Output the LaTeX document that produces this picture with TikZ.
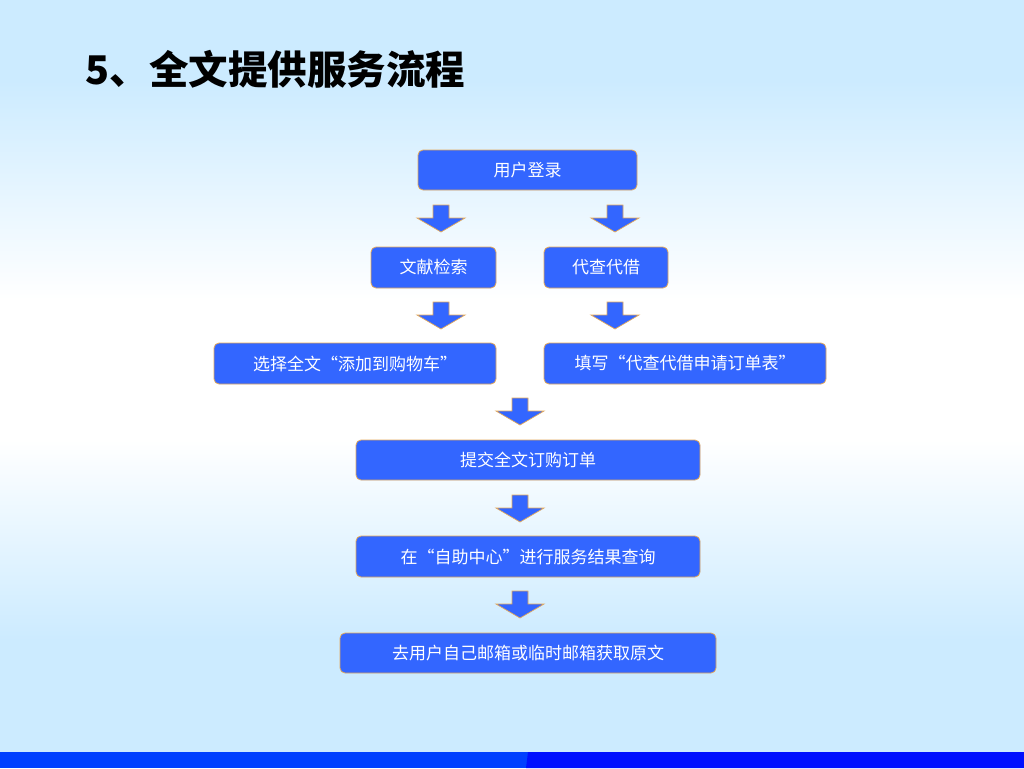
\documentclass[tikz,border=0pt]{standalone}
\usepackage{fontspec}
\setmainfont{Noto Sans CJK SC}
\usepackage{tikz}

\definecolor{skyblue}{RGB}{204,235,255}
\definecolor{boxblue}{RGB}{51,102,255}
\definecolor{boxedge}{RGB}{228,168,88}
\definecolor{barlight}{RGB}{0,64,255}
\definecolor{bardark}{RGB}{0,16,255}

\tikzset{
  stepbox/.style={draw=boxedge, fill=boxblue, line width=0.8pt, rounded corners=5pt,
    text=white, inner sep=0pt, minimum height=40pt, font=\fontsize{17}{20}\selectfont},
  downarrow/.pic={
    \draw[draw=boxedge, fill=boxblue, line width=0.7pt]
      (-8,0) -- (-8,13) -- (-24,13) -- (0,27) -- (24,13) -- (8,13) -- (8,0) -- cycle;
  }
}

\begin{document}
\begin{tikzpicture}[x=1pt, y=-1pt]
  \useasboundingbox (0,0) rectangle (1024,768);

  % background
  \fill[skyblue] (0,0) rectangle (1024,80);
  \shade[top color=skyblue, bottom color=white] (0,80) rectangle (1024,300);
  \fill[white] (0,300) rectangle (1024,440);
  \shade[top color=white, bottom color=skyblue] (0,440) rectangle (1024,640);
  \fill[skyblue] (0,640) rectangle (1024,752);

  % bottom bar
  \fill[barlight] (0,752) rectangle (528,768);
  \fill[bardark] (528,752) -- (526,768) -- (1024,768) -- (1024,752) -- cycle;

  % title
  \node[anchor=west, font=\fontsize{39.5}{44}\selectfont\bfseries] (title) at (82,69) {5、全文提供服务流程};

  % steps
  \node[stepbox, minimum width=219pt] (login) at (527.5,170) {\raisebox{1pt}{用户登录}};
  \node[stepbox, minimum width=125pt, minimum height=41pt] (search) at (433.5,267.5) {文献检索};
  \node[stepbox, minimum width=124pt, minimum height=41pt] (proxy) at (606,267.5) {代查代借};
  \node[stepbox, minimum width=282pt, minimum height=41pt] (cart) at (355,363.5) {选择全文“添加到购物车”};
  \node[stepbox, minimum width=282pt, minimum height=41pt] (form) at (685,363.5) {填写“代查代借申请订单表”};
  \node[stepbox, minimum width=344pt] (order) at (528,460) {提交全文订购订单};
  \node[stepbox, minimum width=344pt, minimum height=41pt] (query) at (528,556.5) {在“自助中心”进行服务结果查询};
  \node[stepbox, minimum width=376pt] (fetch) at (528,653) {去用户自己邮箱或临时邮箱获取原文};

  % block arrows
  \pic at (441,205) {downarrow};
  \pic at (615,205) {downarrow};
  \pic at (441,302) {downarrow};
  \pic at (615,302) {downarrow};
  \pic at (520,398) {downarrow};
  \pic at (520,495) {downarrow};
  \pic at (520,591) {downarrow};
\end{tikzpicture}
\end{document}
